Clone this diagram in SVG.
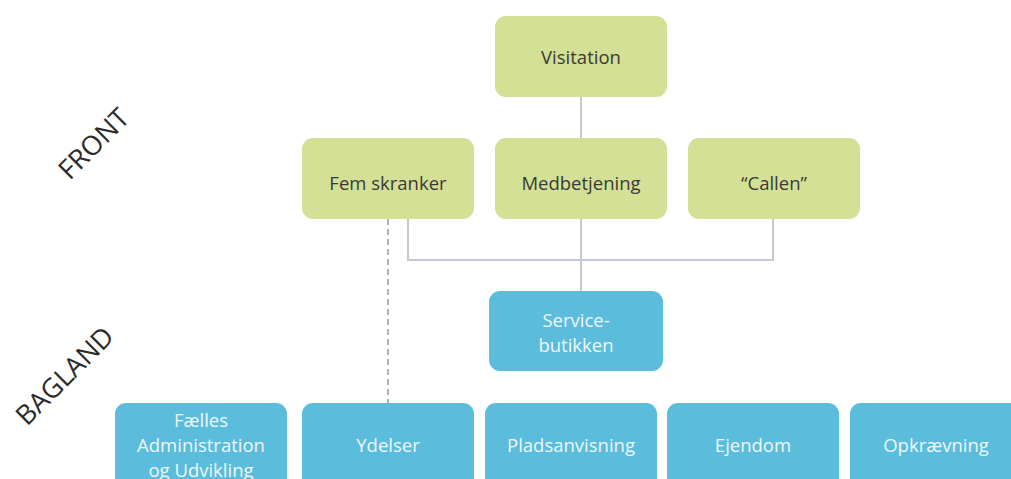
<svg xmlns="http://www.w3.org/2000/svg" width="1011" height="479" viewBox="0 0 1011 479">
<style>
.g{fill:#d3e096}
.b{fill:#5bbcdc}
.t{font-family:"Open Sans","Liberation Sans",sans-serif;font-size:18.5px;text-anchor:middle}
.tg{fill:#3a3a35}
.tb{fill:#eef7fa}
.lbl{font-family:"Open Sans","Liberation Sans",sans-serif;font-size:27px;fill:#2b2b2b;text-anchor:middle}
.ln{stroke:#c3c8d1;stroke-width:2;fill:none}
.dash{stroke:#9a9a9a;stroke-width:1.5;stroke-dasharray:6 4;fill:none}
</style>
<rect width="1011" height="479" fill="#fff"/>
<text class="lbl" transform="translate(94 144) rotate(-45)" dy="9">FRONT</text>
<text class="lbl" transform="translate(65 376) rotate(-45)" dy="9">BAGLAND</text>
<g id="connectors">
<path class="ln" d="M581 96V138"/>
<path class="ln" d="M581 219V291"/>
<path class="ln" d="M408 219V260H773V219"/>
<path class="dash" d="M388 219V403"/>
</g>
<g id="visitation"><rect class="g" x="495" y="16" width="172" height="81" rx="11"/><text class="t tg" x="581" y="64">Visitation</text></g>
<g id="femskranker"><rect class="g" x="302" y="138" width="172" height="81" rx="11"/><text class="t tg" x="388" y="190">Fem skranker</text></g>
<g id="medbetjening"><rect class="g" x="495" y="138" width="172" height="81" rx="11"/><text class="t tg" x="581" y="190">Medbetjening</text></g>
<g id="callen"><rect class="g" x="688" y="138" width="172" height="81" rx="11"/><text class="t tg" x="774" y="190">“Callen”</text></g>
<g id="servicebutikken"><rect class="b" x="489" y="291" width="174" height="80" rx="11"/><text class="t tb" x="576" y="327">Service-</text><text class="t tb" x="576" y="352">butikken</text></g>
<g id="faelles"><rect class="b" x="115" y="403" width="172" height="100" rx="11"/><text class="t tb" x="201" y="427">Fælles</text><text class="t tb" x="201" y="452">Administration</text><text class="t tb" x="201" y="477">og Udvikling</text></g>
<g id="ydelser"><rect class="b" x="302" y="403" width="172" height="100" rx="11"/><text class="t tb" x="388" y="452">Ydelser</text></g>
<g id="pladsanvisning"><rect class="b" x="485" y="403" width="172" height="100" rx="11"/><text class="t tb" x="571" y="452">Pladsanvisning</text></g>
<g id="ejendom"><rect class="b" x="667" y="403" width="172" height="100" rx="11"/><text class="t tb" x="753" y="452">Ejendom</text></g>
<g id="opkraevning"><rect class="b" x="850" y="403" width="172" height="100" rx="11"/><text class="t tb" x="936" y="452">Opkrævning</text></g>
</svg>
